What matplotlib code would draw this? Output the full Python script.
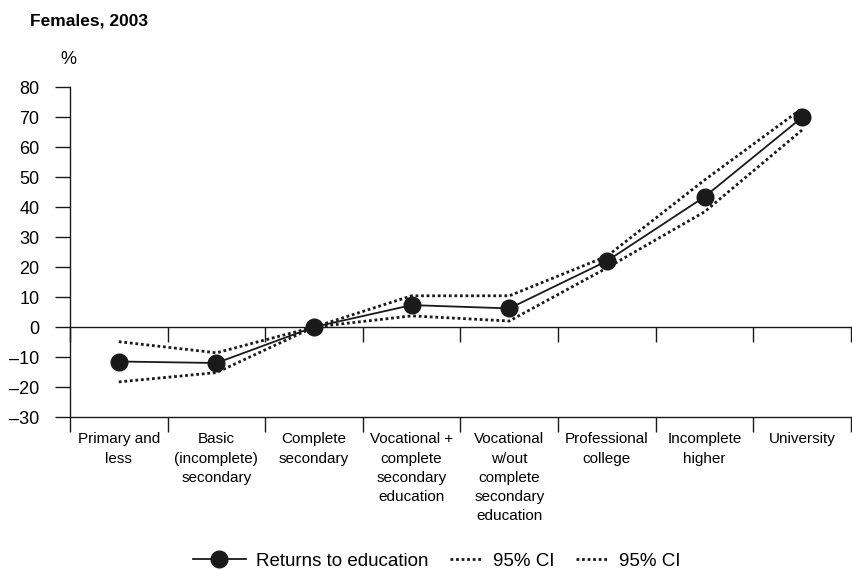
import matplotlib
matplotlib.use("Agg")
import matplotlib.pyplot as plt
from matplotlib.lines import Line2D
from matplotlib.legend_handler import HandlerLine2D
import numpy as np

plt.rcParams["font.family"] = ["Liberation Sans", "DejaVu Sans"]

categories = [
    "Primary and\nless",
    "Basic\n(incomplete)\nsecondary",
    "Complete\nsecondary",
    "Vocational +\ncomplete\nsecondary\neducation",
    "Vocational\nw/out\ncomplete\nsecondary\neducation",
    "Professional\ncollege",
    "Incomplete\nhigher",
    "University",
]
returns = [-11.5, -12.0, 0.0, 7.3, 6.2, 22.0, 43.4, 69.9]
ci_upper = [-4.9, -8.6, 0.0, 10.4, 10.4, 23.6, 49.0, 72.9]
ci_lower = [-18.3, -15.2, 0.0, 3.7, 2.0, 19.7, 38.4, 65.7]
y_ticks = [80, 70, 60, 50, 40, 30, 20, 10, 0, -10, -20, -30]

INK = "#1a1a1a"


class ShortLineHandler(HandlerLine2D):
    """Legend handler drawing a shorter, right-aligned line sample."""

    def __init__(self, frac, **kw):
        super().__init__(**kw)
        self.frac = frac

    def create_artists(self, legend, orig_handle, xdescent, ydescent,
                       width, height, fontsize, trans):
        w = width * self.frac
        return super().create_artists(legend, orig_handle,
                                      xdescent - (width - w), ydescent,
                                      w, height, fontsize, trans)


fig = plt.figure(figsize=(8.53, 5.70), dpi=100)
ax = fig.add_axes([70 / 853, 153 / 570, 781 / 853, 330 / 570])

x = np.arange(len(categories))
dot_style = dict(color=INK, linestyle=(0, (1, 1)), linewidth=2.0)
ax.plot(x, ci_upper, **dot_style, zorder=2)
ax.plot(x, ci_lower, **dot_style, zorder=2)
ax.plot(x, returns, color=INK, linewidth=1.3, marker="o",
        markersize=12, zorder=3)

ax.set_xlim(-0.5, len(categories) - 0.5)
ax.set_ylim(min(y_ticks), max(y_ticks))
ax.set_yticks(y_ticks)
ax.set_yticklabels([str(v).replace("-", "\u2013") for v in y_ticks])

for side in ("top", "right"):
    ax.spines[side].set_visible(False)
for side in ("left", "bottom"):
    ax.spines[side].set_color(INK)
    ax.spines[side].set_linewidth(1.0)

ax.tick_params(axis="y", direction="out", length=11, width=1.0,
               labelsize=13, pad=11, color=INK)

boundaries = np.arange(len(categories) + 1) - 0.5
ax.set_xticks(x)
ax.set_xticklabels(categories, fontsize=11, linespacing=1.48, va="top")
ax.set_xticks(boundaries, minor=True)
ax.tick_params(axis="x", which="major", length=0, pad=11)
ax.tick_params(axis="x", which="minor", direction="out", length=11,
               width=1.0, color=INK)

# zero line with its own downward ticks
zero_axis = ax.secondary_xaxis(0, transform=ax.transData)
zero_axis.spines["bottom"].set_color(INK)
zero_axis.spines["bottom"].set_linewidth(1.0)
zero_axis.set_xticks(boundaries)
zero_axis.set_xticklabels([])
zero_axis.tick_params(axis="x", direction="out", length=11, width=1.0,
                      color=INK)

fig.text(30 / 853, 1 - 21 / 570, "Females, 2003", fontsize=12.5,
         fontweight="bold", va="center", ha="left")
fig.text(60 / 853, 1 - 59 / 570, "%", fontsize=13, va="center", ha="left")

ret_handle = Line2D([], [], color=INK, linewidth=1.3, marker="o",
                    markersize=12)
ci_handle_a = Line2D([], [], **dot_style)
ci_handle_b = Line2D([], [], **dot_style)
handles = [ret_handle, ci_handle_a, ci_handle_b]
labels = ["Returns to education", "95% CI", "95% CI"]
fig.legend(handles, labels, loc="center", bbox_to_anchor=(437 / 853, 9 / 570),
           ncol=3, frameon=False, fontsize=13.5, handlelength=2.8,
           handletextpad=0.55, columnspacing=0.1, borderpad=0.0,
           handler_map={ci_handle_a: ShortLineHandler(0.62),
                        ci_handle_b: ShortLineHandler(0.62)})

fig.savefig("out.png", dpi=100)
